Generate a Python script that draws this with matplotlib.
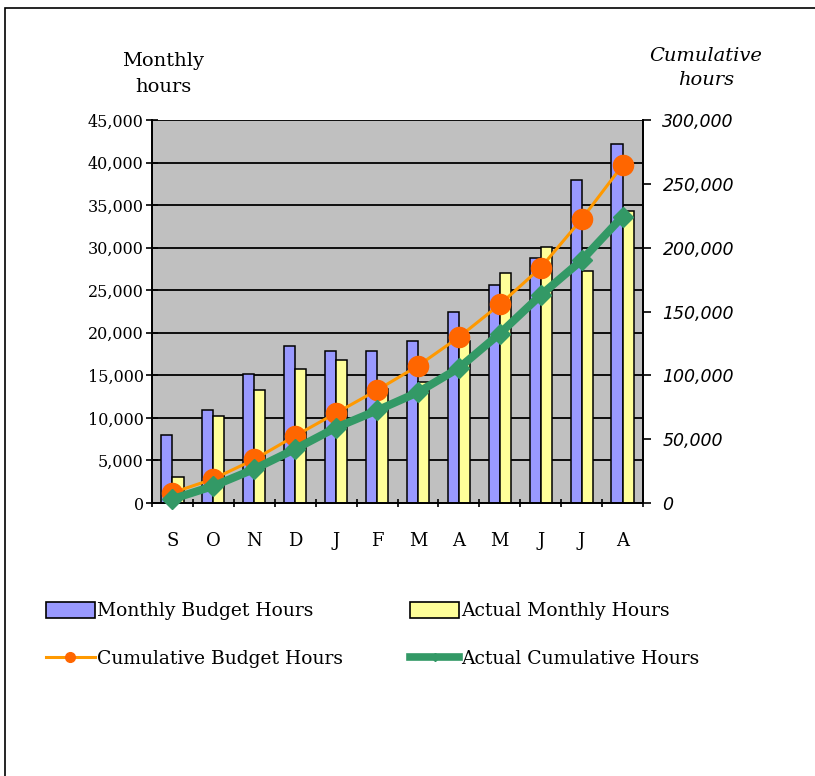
import matplotlib
matplotlib.use("Agg")
import matplotlib.pyplot as plt
import numpy as np
from matplotlib.lines import Line2D
from matplotlib.patches import Rectangle, Patch
from matplotlib.ticker import FuncFormatter, MultipleLocator

months = ["S", "O", "N", "D", "J", "F", "M", "A", "M", "J", "J", "A"]
budget_monthly = [8000, 10900, 15200, 18500, 17900, 17900, 19000, 22500, 25600, 28800, 38000, 42200]
actual_monthly = [3100, 10200, 13300, 15700, 16800, 13400, 14200, 19000, 27000, 30100, 27300, 34300]
budget_cum = np.cumsum(budget_monthly)
actual_cum = np.cumsum(actual_monthly)

serif = "DejaVu Serif"

fig = plt.figure(figsize=(8.15, 7.76), dpi=100)
ax = fig.add_axes([152/815, 1-503/776, (643-152)/815, (503-120)/776])
ax2 = ax.twinx()

x = np.arange(len(months))
w = 0.27
b1 = ax.bar(x - w/2, budget_monthly, w, color="#9999FF", edgecolor="black", linewidth=1.1, zorder=3)
b2 = ax.bar(x + w/2, actual_monthly, w, color="#FFFF99", edgecolor="black", linewidth=1.1, zorder=3)

ax.set_facecolor("#C0C0C0")
ax.set_xlim(-0.5, 11.5)
ax.set_ylim(0, 45000)
ax.yaxis.set_major_locator(MultipleLocator(5000))
ax.grid(axis="y", color="black", linewidth=1.3, zorder=1)
ax.set_axisbelow(True)
ax.yaxis.set_major_formatter(FuncFormatter(lambda v, p: f"{int(v):,}"))
ax.set_xticks(x)
ax.set_xticklabels(months, fontfamily=serif, fontsize=13)
ax.set_xticks(np.arange(-0.5, 12, 1), minor=True)
ax.tick_params(axis="x", which="major", length=0, pad=21)
ax.tick_params(axis="x", which="minor", length=6, direction="inout", width=1.2)
ax.tick_params(axis="y", length=8, direction="inout", width=1.2, labelsize=11.5, pad=2)
for lbl in ax.get_yticklabels():
    lbl.set_fontfamily(serif)

for s in ["top"]:
    ax.spines[s].set_visible(False)
    ax2.spines[s].set_visible(False)
for s in ["left", "bottom", "right"]:
    ax.spines[s].set_linewidth(1.3)
    ax2.spines[s].set_linewidth(1.3)

ax2.set_ylim(0, 300000)
ax2.yaxis.set_major_locator(MultipleLocator(50000))
ax2.yaxis.set_major_formatter(FuncFormatter(lambda v, p: f"{int(v):,}"))
ax2.tick_params(axis="y", length=6, direction="out", width=1.2, labelsize=12.5, pad=8)
for lbl in ax2.get_yticklabels():
    lbl.set_fontstyle("italic")
    lbl.set_fontfamily("DejaVu Sans")

l1, = ax2.plot(x, budget_cum, color="#FF9900", linewidth=2.2, marker="o", markersize=14.5,
               markerfacecolor="#FF6600", markeredgecolor="#FF6600", zorder=4, clip_on=False)
l2, = ax2.plot(x, actual_cum, color="#339966", linewidth=5.8, marker="D", markersize=10.5,
               markerfacecolor="#339966", markeredgecolor="#339966", zorder=5, clip_on=False)

fig.text(163/815, 1-74/776, "Monthly\nhours", ha="center", va="center", fontfamily=serif,
         fontsize=14, linespacing=1.6)
fig.text(706/815, 1-68/776, "Cumulative\nhours", ha="center", va="center", fontfamily=serif,
         fontstyle="italic", fontsize=14, linespacing=1.45)

# legend
h1 = Patch(facecolor="#9999FF", edgecolor="black", linewidth=1.2)
h2 = Patch(facecolor="#FFFF99", edgecolor="black", linewidth=1.2)
h3 = Line2D([], [], color="#FF9900", linewidth=2.2, marker="o", markersize=7,
            markerfacecolor="#FF6600", markeredgecolor="#FF6600")
h4 = Line2D([], [], color="#339966", linewidth=5.5, marker="D", markersize=4,
            markerfacecolor="#339966", markeredgecolor="#339966")
leg = fig.legend([h1, h3, h2, h4],
                 ["Monthly Budget Hours", "Cumulative Budget Hours",
                  "Actual Monthly Hours", "Actual Cumulative Hours"],
                 loc="upper left", bbox_to_anchor=(46/815, 1-602/776), ncol=2,
                 frameon=False, prop={"family": serif, "size": 13.5},
                 handlelength=2.6, handleheight=0.9, handletextpad=0.1,
                 columnspacing=3.6, labelspacing=1.6, borderaxespad=0, borderpad=0)

fig.patches.append(Rectangle((5/815, -0.1), 1.2, 1 - 8/776 + 0.1, transform=fig.transFigure,
                             fill=False, edgecolor="black", linewidth=1.2))

fig.savefig("out.png", dpi=100)
